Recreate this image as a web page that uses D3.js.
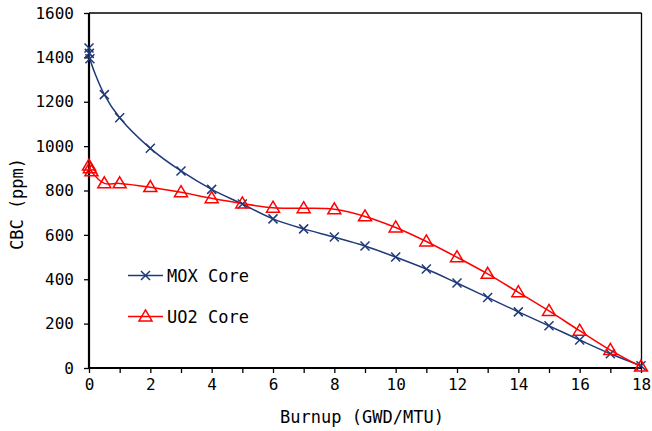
<!DOCTYPE html>
<html><head><meta charset="utf-8">
<script src="https://cdn.jsdelivr.net/npm/d3@7"></script>
<style>body{margin:0;background:#fff}svg{display:block}text{font-family:"DejaVu Sans Mono",monospace;fill:#000}</style>
</head><body>
<svg id="c" width="652" height="431"></svg>
<script>
const burnupMOX = [0, 0.01, 0.03, 0.5, 1, 2, 3, 4, 5, 6, 7, 8, 9, 10, 11, 12, 13, 14, 15, 16, 17, 18];
const cbcMOX = [1442, 1418, 1394, 1232, 1128, 990, 888, 805, 739, 672, 627, 590, 550, 500, 446, 383, 318, 253, 190, 126, 64, 10];
const burnupUO2 = [0, 0.03, 0.08, 0.5, 1, 2, 3, 4, 5, 6, 7, 8, 9, 10, 11, 12, 13, 14, 15, 16, 17, 18];
const cbcUO2 = [912, 900, 886, 832, 832, 815, 792, 765, 741, 722, 720, 715, 683, 633, 570, 499, 424, 341, 257, 168, 81, 6];
const xTicks = d3.range(0, 19, 1);
const xLabels = [0, 2, 4, 6, 8, 10, 12, 14, 16, 18];
const yTicks = [0, 200, 400, 600, 800, 1000, 1200, 1400, 1600];
const seriesNames = ["MOX Core", "UO2 Core"];
const colors = ["#1F3A7A", "#FF0000"];

const svg = d3.select("#c");
const x = d3.scaleLinear().domain([0, 18]).range([89, 641]);
const y = d3.scaleLinear().domain([0, 1600]).range([368, 13]);

// frame top/right
svg.append("line").attr("x1", 89).attr("x2", 641.5).attr("y1", 13).attr("y2", 13).attr("stroke", "#000").attr("stroke-width", 1.3);
svg.append("line").attr("x1", 641.5).attr("x2", 641.5).attr("y1", 13).attr("y2", 368).attr("stroke", "#000").attr("stroke-width", 1.3);

// axes
const yAxis = d3.axisLeft(y).tickValues(yTicks).tickSize(5).tickPadding(10).tickFormat(d3.format("d"));
const gy = svg.append("g").attr("transform", "translate(89,0)").call(yAxis);
gy.select(".domain").attr("stroke-width", 2.2).attr("d", "M0,13V368");
gy.selectAll(".tick line").attr("stroke-width", 1.3);
gy.selectAll("text").style("font-size", "16px").attr("font-family", "DejaVu Sans Mono");

const xAxis = d3.axisBottom(x).tickValues(xTicks).tickSize(5).tickPadding(6)
  .tickFormat(d => xLabels.includes(d) ? d : "");
const gx = svg.append("g").attr("transform", "translate(0,368)").call(xAxis);
gx.select(".domain").attr("stroke-width", 2.2).attr("d", "M89,0H641.5");
gx.selectAll(".tick line").attr("stroke-width", 1.3);
gx.selectAll("text").style("font-size", "16px").attr("font-family", "DejaVu Sans Mono");

// titles
svg.append("text").attr("x", 362).attr("y", 423).attr("text-anchor", "middle").style("font-size", "17px").text("Burnup (GWD/MTU)");
svg.append("text").attr("transform", "translate(23,204) rotate(-90)").attr("text-anchor", "middle").style("font-size", "17px").text("CBC (ppm)");

const line = d3.line().curve(d3.curveCatmullRom.alpha(0.5)).x(d => x(d[0])).y(d => y(d[1]));
const mox = burnupMOX.map((b, i) => [b, cbcMOX[i]]);
const uo2 = burnupUO2.map((b, i) => [b, cbcUO2[i]]);

function xMark(g, cx, cy, c) {
  const s = 4.5;
  g.append("path").attr("d", `M${cx-s},${cy-s}L${cx+s},${cy+s}M${cx-s},${cy+s}L${cx+s},${cy-s}`)
    .attr("stroke", c).attr("stroke-width", 1.5).attr("fill", "none");
}
function triMark(g, cx, cy, c) {
  const w = 6.5, h = 11;
  g.append("path").attr("d", `M${cx},${cy-h*0.6}L${cx+w},${cy+h*0.4}L${cx-w},${cy+h*0.4}Z`)
    .attr("stroke", c).attr("stroke-width", 1.5).attr("fill", "none");
}

svg.append("path").datum(mox).attr("d", line).attr("fill", "none").attr("stroke", colors[0]).attr("stroke-width", 1.5);
svg.append("path").datum(uo2).attr("d", line).attr("fill", "none").attr("stroke", colors[1]).attr("stroke-width", 1.5);
const gm = svg.append("g");
mox.forEach(d => xMark(gm, x(d[0]), y(d[1]), colors[0]));
const gu = svg.append("g");
uo2.forEach(d => triMark(gu, x(d[0]), y(d[1]), colors[1]));

// legend
const leg = svg.append("g");
[[275.5, 0], [316.5, 1]].forEach(([ly, i]) => {
  leg.append("line").attr("x1", 128).attr("x2", 163).attr("y1", ly).attr("y2", ly).attr("stroke", colors[i]).attr("stroke-width", 1.5);
  if (i === 0) xMark(leg, 145.5, ly, colors[i]); else triMark(leg, 145.5, ly, colors[i]);
  leg.append("text").attr("x", 167).attr("y", ly + 6).style("font-size", "17px").text(seriesNames[i]);
});
</script>
</body></html>
